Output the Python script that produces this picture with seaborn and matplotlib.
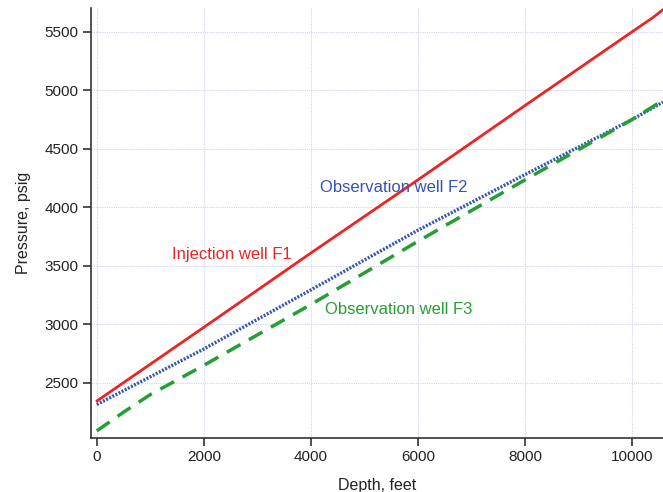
import matplotlib
matplotlib.use("Agg")
import matplotlib.pyplot as plt
import seaborn as sns
import pandas as pd

# Depth (feet) and pressure (psig)
depth_f1 = [0, 2000, 4000, 6000, 8000, 10000, 10400, 10580]
press_f1 = [2345, 2975, 3610, 4235, 4870, 5500, 5625, 5690]

depth_f2 = [0, 2000, 4000, 6000, 8000, 10000, 10580]
press_f2 = [2315, 2790, 3295, 3805, 4280, 4750, 4900]

depth_f3 = [0, 500, 1000, 2000, 4000, 6000, 8000, 10000, 10580]
press_f3 = [2090, 2250, 2400, 2650, 3170, 3710, 4235, 4750, 4915]

x_ticks = [0, 2000, 4000, 6000, 8000, 10000]
y_ticks = [2500, 3000, 3500, 4000, 4500, 5000, 5500]

red = "#ee2424"
blue = "#3553b4"
green = "#23a035"

sns.set_theme(style="white")
plt.rcParams["font.family"] = ["Liberation Sans", "DejaVu Sans"]

fig = plt.figure(figsize=(6.63, 4.92), dpi=100)
ax = fig.add_axes([0.137, 0.110, 0.863, 0.874])

df1 = pd.DataFrame({"depth": depth_f1, "pressure": press_f1})
df2 = pd.DataFrame({"depth": depth_f2, "pressure": press_f2})
df3 = pd.DataFrame({"depth": depth_f3, "pressure": press_f3})

sns.lineplot(data=df1, x="depth", y="pressure", ax=ax, color=red, linewidth=2.0)
sns.lineplot(data=df2, x="depth", y="pressure", ax=ax, color=blue, linewidth=2.4,
             linestyle=(0, (0.6, 0.45)))
sns.lineplot(data=df3, x="depth", y="pressure", ax=ax, color=green, linewidth=2.5,
             linestyle=(0, (4.5, 2.8)))

ax.set_xlim(-112, 10580)
ax.set_ylim(2030, 5705)
ax.set_xticks(x_ticks)
ax.set_yticks(y_ticks)
ax.grid(True, color="#d2d2f0", linestyle=(0, (1, 1)), linewidth=0.8)

for side in ["top", "right"]:
    ax.spines[side].set_visible(False)
for side in ["left", "bottom"]:
    ax.spines[side].set_color("#333333")
    ax.spines[side].set_linewidth(1.2)

ax.tick_params(axis="both", direction="out", length=6, width=1.2, color="#333333",
               labelsize=11, labelcolor="#222222", bottom=True, left=True, pad=3)
ax.set_xlabel("Depth, feet", fontsize=11.5, color="#222222")
ax.set_ylabel("Pressure, psig", fontsize=11.5, color="#222222")
ax.xaxis.set_label_coords(0.5, -0.093)
ax.yaxis.set_label_coords(-0.105, 0.5)

ax.text(1400, 3594, "Injection well F1", color=red, fontsize=12, va="center")
ax.text(4170, 4167, "Observation well F2", color=blue, fontsize=12, va="center")
ax.text(4260, 3124, "Observation well F3", color=green, fontsize=12, va="center")

fig.savefig("out.png", dpi=100)
